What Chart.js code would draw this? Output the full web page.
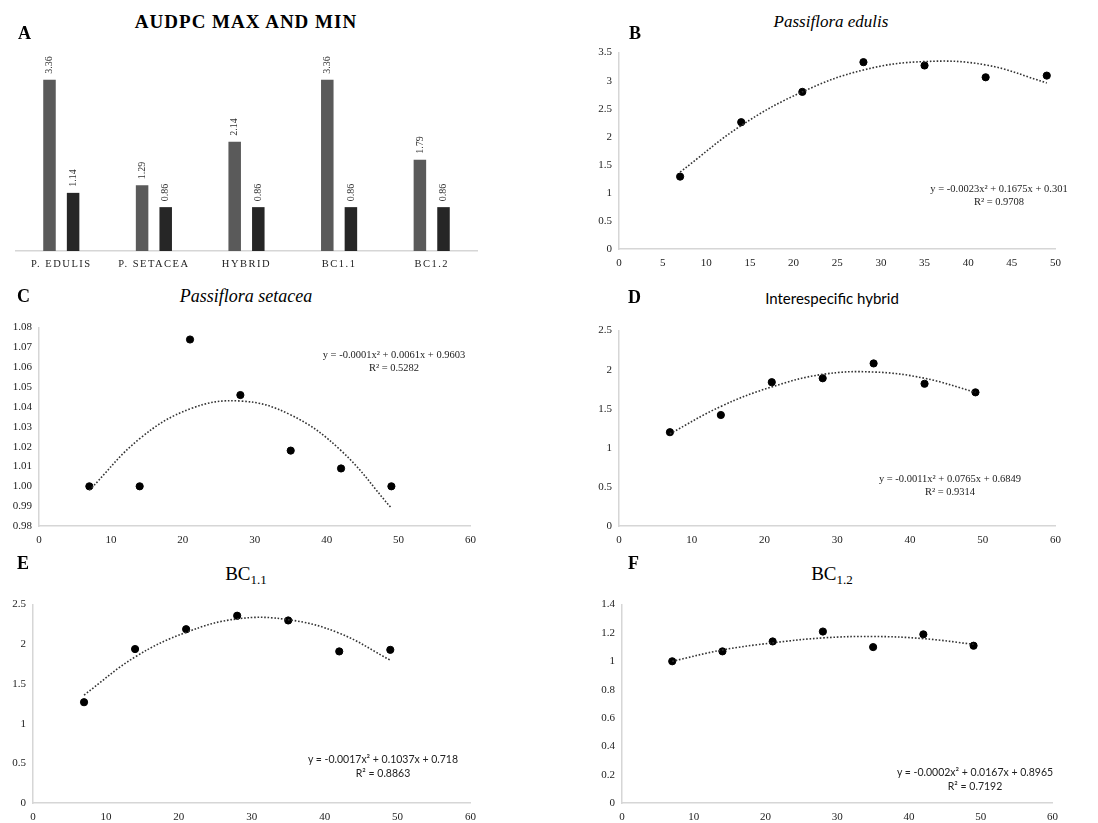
<!DOCTYPE html>
<html>
<head>
<meta charset="utf-8">
<script src="https://cdn.jsdelivr.net/npm/chart.js@4.4.1/dist/chart.umd.min.js"></script>
<style>
    body { margin: 0; background: #fff; width: 1098px; height: 823px; position: relative; overflow: hidden; font-family: "Liberation Serif", "Times New Roman", serif; }
    canvas { position: absolute; }
    .t { position: absolute; line-height: 1; white-space: nowrap; color: #000; }
    .letter { font-weight: bold; font-size: 18px; }
    .title { transform: translateX(-50%); }
    .eq { transform: translateX(-50%); text-align: center; font-size: 10.5px; line-height: 13px; color: #222; }
    .sans { font-family: Lato, "Liberation Sans", sans-serif; }
    sub { font-size: 13px; vertical-align: -4px; line-height: 0; }
</style>
</head>
<body>
<canvas id="chartA"></canvas>
<canvas id="chartB"></canvas>
<canvas id="chartC"></canvas>
<canvas id="chartD"></canvas>
<canvas id="chartE"></canvas>
<canvas id="chartF"></canvas>

<div class="t letter" style="left:18px;top:24px">A</div>
<div class="t letter" style="left:629px;top:24px">B</div>
<div class="t letter" style="left:17px;top:287px">C</div>
<div class="t letter" style="left:628px;top:288px">D</div>
<div class="t letter" style="left:17px;top:554px">E</div>
<div class="t letter" style="left:628px;top:554px">F</div>

<div class="t title" style="left:246px;top:12px;font-size:19px;font-weight:bold;letter-spacing:1px">AUDPC MAX AND MIN</div>
<div class="t title" style="left:831px;top:13px;font-size:17px;font-style:italic">Passiflora edulis</div>
<div class="t title" style="left:246px;top:287px;font-size:18px;font-style:italic">Passiflora setacea</div>
<div class="t title sans" style="left:832px;top:291px;font-size:15px">Interespecific hybrid</div>
<div class="t title" style="left:246px;top:564px;font-size:19px">BC<sub>1.1</sub></div>
<div class="t title" style="left:832px;top:564px;font-size:19px">BC<sub>1.2</sub></div>

<div class="t eq" style="left:999px;top:182px">y = -0.0023x² + 0.1675x + 0.301<br>R² = 0.9708</div>
<div class="t eq" style="left:394px;top:348px">y = -0.0001x² + 0.0061x + 0.9603<br>R² = 0.5282</div>
<div class="t eq" style="left:950px;top:472px">y = -0.0011x² + 0.0765x + 0.6849<br>R² = 0.9314</div>
<div class="t eq sans" style="left:383px;top:752px;line-height:14px">y = -0.0017x² + 0.1037x + 0.718<br>R² = 0.8863</div>
<div class="t eq sans" style="left:975px;top:765px;line-height:14px">y = -0.0002x² + 0.0167x + 0.8965<br>R² = 0.7192</div>

<script>
// panel A data
const categories = ['P. EDULIS', 'P. SETACEA', 'HYBRID', 'BC1.1', 'BC1.2'];
const audpcMax = [3.36, 1.29, 2.14, 3.36, 1.79];
const audpcMin = [1.14, 0.86, 0.86, 0.86, 0.86];

const days = [7, 14, 21, 28, 35, 42, 49];
const edulisValues = [1.29, 2.26, 2.80, 3.33, 3.27, 3.06, 3.09];
const edulisTrend = [1.37, 2.20, 2.80, 3.19, 3.34, 3.28, 2.96];
const setaceaValues = [1.00, 1.00, 1.074, 1.046, 1.018, 1.009, 1.00];
const setaceaTrend = [0.998, 1.024, 1.039, 1.043, 1.036, 1.018, 0.989];
const hybridValues = [1.20, 1.42, 1.84, 1.89, 2.08, 1.82, 1.71];
const hybridTrend = [1.18, 1.53, 1.78, 1.94, 1.97, 1.89, 1.71];
const bc11Values = [1.27, 1.94, 2.19, 2.36, 2.30, 1.91, 1.93];
const bc11Trend = [1.36, 1.84, 2.15, 2.32, 2.31, 2.14, 1.80];
const bc12Values = [1.00, 1.07, 1.14, 1.21, 1.10, 1.19, 1.11];
const bc12Trend = [1.00, 1.08, 1.13, 1.165, 1.175, 1.16, 1.12];

const serif = '"Liberation Serif", "Times New Roman", serif';
const axisGray = '#d6d6d6';
const Y_AXIS_W = 36;
const X_AXIS_H = 28;
const PAD_TOP = 8;
const PAD_RIGHT = 12;

// size and place a canvas so that its plot area lands on the given rectangle
function placeCanvas(id, rect, axisW, padTop, padRight) {
    const c = document.getElementById(id);
    const left = rect.left - axisW;
    const top = rect.top - padTop;
    const w = rect.right + padRight - left;
    const h = rect.bottom + X_AXIS_H - top;
    c.style.left = left + 'px';
    c.style.top = top + 'px';
    c.width = w;
    c.height = h;
    c.style.width = w + 'px';
    c.style.height = h + 'px';
    return c;
}

// --- Panel A: bars with rotated value labels ---
const barLabels = {
    id: 'barLabels',
    beforeDraw(chart) {
        chart.ctx.letterSpacing = '1.5px';
    },
    afterDatasetsDraw(chart) {
        const ctx = chart.ctx;
        ctx.save();
        ctx.letterSpacing = '0px';
        ctx.font = '10px ' + serif;
        ctx.fillStyle = '#333';
        ctx.textAlign = 'left';
        ctx.textBaseline = 'middle';
        chart.data.datasets.forEach((ds, i) => {
            chart.getDatasetMeta(i).data.forEach((bar, j) => {
                ctx.save();
                ctx.translate(bar.x, bar.y - 6);
                ctx.rotate(-Math.PI / 2);
                ctx.fillText(ds.data[j].toFixed(2), 0, 0);
                ctx.restore();
            });
        });
        ctx.restore();
    }
};

const canvasA = placeCanvas('chartA', { left: 15, top: 47, right: 478, bottom: 251 }, 0, 7, 0);
new Chart(canvasA, {
    type: 'bar',
    data: {
        labels: categories,
        datasets: [
            { data: audpcMax, backgroundColor: '#5a5a5a', categoryPercentage: 0.51, barPercentage: 0.53 },
            { data: audpcMin, backgroundColor: '#262626', categoryPercentage: 0.51, barPercentage: 0.53 },
        ],
    },
    options: {
        responsive: false,
        animation: false,
        events: [],
        layout: { padding: { top: 7, left: 0, right: 0, bottom: 0 } },
        plugins: { legend: { display: false }, tooltip: { enabled: false } },
        scales: {
            x: {
                grid: { display: false, drawTicks: false },
                border: { color: axisGray, width: 1.5 },
                ticks: { color: '#222', padding: 7, maxRotation: 0, font: { family: serif, size: 10.5 } },
                afterFit: s => { s.height = X_AXIS_H; },
            },
            y: { display: false, min: 0, max: 4 },
        },
    },
    plugins: [barLabels],
});

// --- Panels B-F: scatter with dotted trendline ---
function tickText(v) {
    return String(Number(v.toFixed(2)));
}

function scatterPanel(id, rect, values, trend, yMin, yMax, yStep, xMax, xStep, yFormat) {
    const canvas = placeCanvas(id, rect, Y_AXIS_W, PAD_TOP, PAD_RIGHT);
    new Chart(canvas, {
        type: 'scatter',
        data: {
            datasets: [
                {
                    data: days.map((d, i) => ({ x: d, y: values[i] })),
                    backgroundColor: '#000',
                    borderColor: '#000',
                    pointRadius: 3.6,
                    order: 1,
                },
                {
                    type: 'line',
                    data: days.map((d, i) => ({ x: d, y: trend[i] })),
                    borderColor: '#333',
                    borderWidth: 1.6,
                    borderDash: [1.6, 1.8],
                    pointRadius: 0,
                    tension: 0.4,
                    fill: false,
                    order: 0,
                },
            ],
        },
        options: {
            responsive: false,
            animation: false,
            events: [],
            layout: { padding: { top: PAD_TOP, right: PAD_RIGHT, left: 0, bottom: 0 } },
            plugins: { legend: { display: false }, tooltip: { enabled: false } },
            scales: {
                x: {
                    type: 'linear',
                    min: 0,
                    max: xMax,
                    grid: { display: false, drawTicks: false },
                    border: { color: axisGray, width: 1.5 },
                    ticks: { stepSize: xStep, autoSkip: false, maxRotation: 0, padding: 8, color: '#222', font: { family: serif, size: 11 } },
                    afterFit: s => { s.height = X_AXIS_H; },
                },
                y: {
                    min: yMin,
                    max: yMax,
                    grid: { display: false, drawTicks: false },
                    border: { color: axisGray, width: 1.5 },
                    ticks: { stepSize: yStep, autoSkip: false, padding: 7, color: '#222', font: { family: serif, size: 11 }, callback: yFormat },
                    afterFit: s => { s.width = Y_AXIS_W; },
                },
            },
        },
    });
}

scatterPanel('chartB', { left: 619, top: 47, right: 1057, bottom: 249 }, edulisValues, edulisTrend, 0, 3.5, 0.5, 50, 5, tickText);
scatterPanel('chartC', { left: 39, top: 322, right: 472, bottom: 526 }, setaceaValues, setaceaTrend, 0.98, 1.08, 0.01, 60, 10, v => v.toFixed(2));
scatterPanel('chartD', { left: 619, top: 325, right: 1057, bottom: 526 }, hybridValues, hybridTrend, 0, 2.5, 0.5, 60, 10, tickText);
scatterPanel('chartE', { left: 33, top: 599, right: 472, bottom: 803 }, bc11Values, bc11Trend, 0, 2.5, 0.5, 60, 10, tickText);
scatterPanel('chartF', { left: 622, top: 599, right: 1054, bottom: 803 }, bc12Values, bc12Trend, 0, 1.4, 0.2, 60, 10, tickText);
</script>
</body>
</html>
